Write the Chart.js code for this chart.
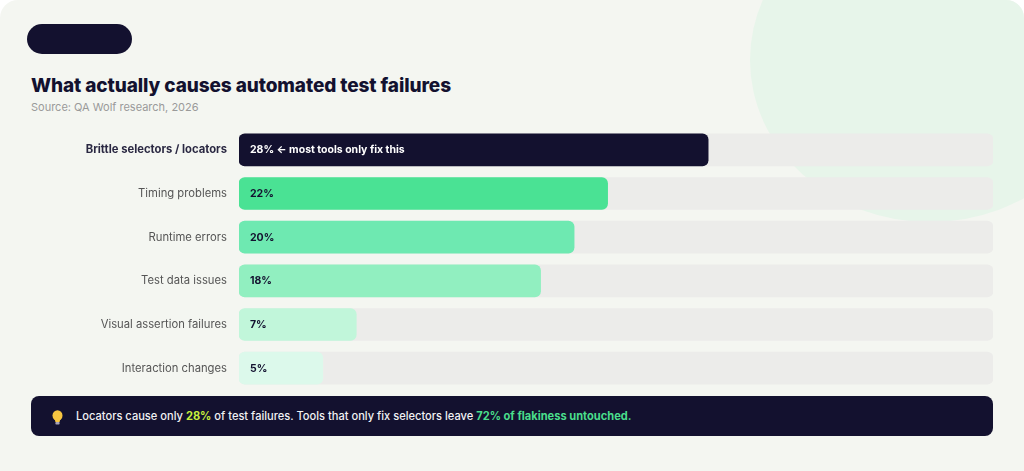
<!DOCTYPE html>
<html>
<head>
<meta charset="utf-8">
<script src="https://cdn.jsdelivr.net/npm/chart.js@4.4.1/dist/chart.umd.min.js"></script>
<style>
  html, body { margin:0; padding:0; background:#ffffff; width:1024px; height:471px; overflow:hidden; font-family: Inter, "Noto Sans", sans-serif; }
  #card { position:absolute; left:0; top:0; width:1024px; height:520px; background:#f4f6f1; border-radius:18px; overflow:hidden; }
  #blob { position:absolute; left:750px; top:-102px; width:360px; height:324px; border-radius:50%; background:#e7f5ea; }
  #pill { position:absolute; left:27px; top:24px; width:105px; height:30px; border-radius:15px; background:#13112f; }
  #title { position:absolute; left:31px; top:74px; font-size:19px; font-weight:800; color:#13112f; letter-spacing:-0.1px; white-space:nowrap; }
  #source { position:absolute; left:31px; top:100px; font-size:11px; color:#9a9a9a; white-space:nowrap; }
  #chartWrap { position:absolute; left:0; top:128px; width:1024px; height:262px; }
  #callout { position:absolute; left:31px; top:396px; width:962px; height:40px; border-radius:8px; background:#13112f; box-sizing:border-box; }
  #callout svg { position:absolute; left:21px; top:14px; }
  #callout .txt { position:absolute; left:45px; top:0; line-height:40px; font-size:11.1px; font-weight:500; color:#f1f1f4; white-space:nowrap; }
  .hl1 { color:#c8f03c; font-weight:700; }
  .hl2 { color:#4ade8c; font-weight:700; }
</style>
</head>
<body>
<div id="card">
  <div id="blob"></div>
  <div id="pill"></div>
  <div id="title">What actually causes automated test failures</div>
  <div id="source">Source: QA Wolf research, 2026</div>
  <div id="chartWrap"><canvas id="c"></canvas></div>
  <div id="callout">
    <svg width="11" height="16" viewBox="0 0 11 16">
      <ellipse cx="5.5" cy="5.5" rx="5" ry="5.3" fill="#f7c541"/>
      <path d="M2.6 8.5 L8.4 8.5 L7.6 12 L3.4 12 Z" fill="#f7c541"/>
      <rect x="3.4" y="12" width="4.2" height="2.6" rx="0.8" fill="#a7a3b8"/>
    </svg>
    <div class="txt">Locators cause only <span class="hl1">28%</span> of test failures. Tools that only fix selectors leave <span class="hl2">72% of flakiness untouched.</span></div>
  </div>
</div>
<script>
const categories = ["Brittle selectors / locators", "Timing problems", "Runtime errors", "Test data issues", "Visual assertion failures", "Interaction changes"];
const values = [28, 22, 20, 18, 7, 5];
const notes = ["← most tools only fix this", "", "", "", "", ""];
const barColors = ["#13112f", "#4ae294", "#6ee9b1", "#91efc0", "#c1f6da", "#dcf9eb"];
const labelColors = ["#ffffff", "#13112f", "#13112f", "#13112f", "#13112f", "#13112f"];
const axisMax = 45;
const trackValues = categories.map(() => axisMax);

const FONT = 'Inter, "Noto Sans", sans-serif';

const valueLabels = {
  id: 'valueLabels',
  afterDatasetsDraw(chart) {
    const ctx = chart.ctx;
    const meta = chart.getDatasetMeta(0);
    ctx.save();
    ctx.font = '700 10.5px ' + FONT;
    ctx.textBaseline = 'middle';
    ctx.textAlign = 'left';
    meta.data.forEach((bar, i) => {
      ctx.fillStyle = labelColors[i];
      const txt = values[i] + '%' + (notes[i] ? ' ' + notes[i] : '');
      ctx.fillText(txt, chart.chartArea.left + 11, bar.y + 0.5);
    });
    ctx.restore();
  }
};

const chart = new Chart(document.getElementById('c'), {
  type: 'bar',
  data: {
    labels: categories,
    datasets: [
      { data: values, backgroundColor: barColors, borderRadius: 6, borderSkipped: false, barThickness: 32, grouped: false, order: 0 },
      { data: trackValues, backgroundColor: '#ececea', borderRadius: 6, borderSkipped: false, barThickness: 32, grouped: false, order: 1 }
    ]
  },
  options: {
    indexAxis: 'y',
    responsive: true,
    maintainAspectRatio: false,
    animation: false,
    layout: { padding: { left: 0, right: 31, top: 0, bottom: 0 } },
    plugins: { legend: { display: false }, tooltip: { enabled: false } },
    scales: {
      x: { display: false, min: 0, max: axisMax },
      y: {
        grid: { display: false, drawTicks: false },
        border: { display: false },
        afterFit(scale) { scale.width = 239; scale.paddingTop = 0; scale.paddingBottom = 0; },
        ticks: {
          padding: 12,
          color: (ctx) => ctx.index === 0 ? '#2a2842' : '#555555',
          font: (ctx) => ({ family: FONT, size: 11.25, weight: ctx.index === 0 ? '700' : '400' })
        }
      }
    }
  },
  plugins: [valueLabels]
});

// calibrate wrapper so plot area spans y 128..390
(function calibrate() {
  const wrap = document.getElementById('chartWrap');
  const wantTop = 128.2, wantBottom = 389.8;
  for (let k = 0; k < 3; k++) {
    const a = chart.chartArea;
    const wrapTop = parseFloat(wrap.style.top || 128);
    const wrapH = parseFloat(wrap.style.height || 262);
    const curTop = wrapTop + a.top, curBottom = wrapTop + a.bottom;
    if (Math.abs(curTop - wantTop) < 0.5 && Math.abs(curBottom - wantBottom) < 0.5) break;
    const padTop = a.top, padBottom = wrapH - a.bottom;
    const newTop = wantTop - padTop;
    const newH = (wantBottom - wantTop) + padTop + padBottom;
    wrap.style.top = newTop + 'px';
    wrap.style.height = newH + 'px';
    chart.resize();
  }
})();
</script>
</body>
</html>
